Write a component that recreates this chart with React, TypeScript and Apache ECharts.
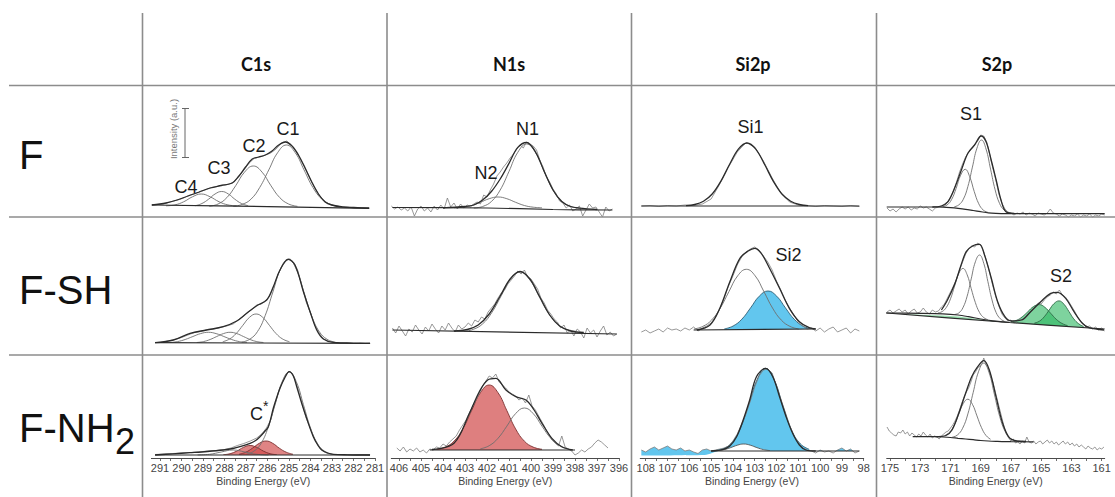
import React, { useEffect, useRef } from "react";
import * as echarts from "echarts";

type Pts = [number, number][];

const COLUMN_TITLES = ["C1s", "N1s", "Si2p", "S2p"];
const ROW_TITLES = ["F", "F-SH", "F-NH"];
const X_NAME = "Binding Energy (eV)";

const C1S_LABELS = [281, 282, 283, 284, 285, 286, 287, 288, 289, 290, 291];
const C1S_TICKS = [281, 281.5, 282, 282.5, 283, 283.5, 284, 284.5, 285, 285.5, 286, 286.5, 287, 287.5, 288, 288.5, 289, 289.5, 290, 290.5, 291];
const N1S_LABELS = [396, 397, 398, 399, 400, 401, 402, 403, 404, 405, 406];
const N1S_TICKS = [396, 396.5, 397, 397.5, 398, 398.5, 399, 399.5, 400, 400.5, 401, 401.5, 402, 402.5, 403, 403.5, 404, 404.5, 405, 405.5, 406];
const SI2P_LABELS = [98, 99, 100, 101, 102, 103, 104, 105, 106, 107, 108];
const SI2P_TICKS = [98, 98.5, 99, 99.5, 100, 100.5, 101, 101.5, 102, 102.5, 103, 103.5, 104, 104.5, 105, 105.5, 106, 106.5, 107, 107.5, 108];
const S2P_LABELS = [161, 163, 165, 167, 169, 171, 173, 175];
const S2P_TICKS = [161, 162, 163, 164, 165, 166, 167, 168, 169, 170, 171, 172, 173, 174, 175];

// ---------- Row F ----------
const C1S_F_BASE: Pts = [[291.38, 7], [286, 5.4], [281.27, 3.7]];
const C1S_F_C1: Pts = [[287.59, 5.7], [287.18, 7.6], [286.77, 12.8], [286.36, 24.6], [285.94, 42.1], [285.53, 59.3], [285.12, 67], [284.71, 59.3], [284.3, 42.1], [283.89, 24.6], [283.47, 12.8], [283.06, 7.6], [282.65, 5.5]];
const C1S_F_C2: Pts = [[288.71, 5.7], [288.3, 8], [287.89, 14.4], [287.48, 26.3], [287.07, 39.8], [286.66, 46], [286.25, 39.8], [285.84, 26.3], [285.43, 14.4], [285.02, 8], [284.61, 5.7]];
const C1S_F_C3: Pts = [[289.36, 6.3], [289.05, 8.5], [288.74, 12.8], [288.44, 18], [288.13, 20.5], [287.82, 18], [287.52, 12.8], [287.21, 8.5], [286.9, 6.3]];
const C1S_F_C4: Pts = [[290.72, 6.2], [290.31, 7.1], [289.9, 10.2], [289.49, 15.2], [289.08, 18], [288.67, 15.2], [288.25, 10.2], [287.84, 7.1], [287.43, 6.2]];
const C1S_F_ENV: Pts = [[291.38, 7], [290.72, 9], [290.21, 12], [289.7, 16], [289.18, 20], [288.67, 24], [288.15, 26.5], [287.64, 29], [287.33, 36], [287.02, 45], [286.71, 53], [286.41, 55], [286.1, 57], [285.79, 61], [285.48, 67], [285.17, 70], [284.86, 66], [284.56, 57], [284.25, 44], [283.94, 30], [283.63, 18], [283.32, 10], [283.01, 7], [282.5, 5], [281.99, 4.5], [281.47, 4], [281.27, 4]];
const C1S_F_RAW: Pts = [[291.38, 7], [291.1, 7.5], [290.85, 8], [290.6, 9.5], [290.35, 11], [290.1, 12.5], [289.85, 14.5], [289.6, 17], [289.35, 18.5], [289.1, 20.5], [288.85, 22.5], [288.6, 24.5], [288.35, 25.5], [288.1, 27], [287.85, 27.5], [287.6, 29.5], [287.35, 35], [287.1, 42], [286.85, 49], [286.6, 54], [286.35, 55], [286.1, 57], [285.85, 59], [285.6, 63], [285.35, 69], [285.1, 71], [284.85, 66], [284.6, 58], [284.35, 48], [284.1, 37], [283.85, 26], [283.6, 17], [283.35, 11], [283.1, 7.5], [282.85, 6], [282.6, 5], [282.35, 5], [282.1, 4.5], [281.85, 4], [281.6, 4.5], [281.3, 3.5]];

const N1S_F_BASE: Pts = [[406.3, 4.5], [402, 4], [399, 2.5], [396.3, 2]];
const N1S_F_N1: Pts = [[402.6, 3.9], [402.2, 5.5], [401.8, 10.5], [401.4, 22], [401.0, 40.6], [400.6, 59.7], [400.2, 68], [399.8, 59.7], [399.4, 40.6], [399.0, 22], [398.6, 10.5], [398.2, 5.5], [397.8, 3.9]];
const N1S_F_N2: Pts = [[403.5, 4.2], [403.1, 4.8], [402.7, 6.5], [402.3, 9.7], [401.9, 13.3], [401.5, 15], [401.1, 13.3], [400.7, 9.7], [400.3, 6.5], [399.9, 4.8], [399.5, 4.2]];
const N1S_F_ENV: Pts = [[404.0, 4.2], [403.0, 5.5], [402.6, 7], [402.2, 12], [401.8, 20.5], [401.4, 33], [401.0, 48.6], [400.6, 64.6], [400.2, 69.5], [399.8, 60.2], [399.4, 40.6], [399.0, 22], [398.6, 10.5], [398.2, 5.5], [397.8, 3.9], [397.0, 2.5]];
const N1S_F_RAW: Pts = [[406.35, 6], [406.2, 3], [406.05, 5], [405.9, 2], [405.75, 4], [405.6, 1], [405.45, 5], [405.3, -4], [405.15, 3], [405.0, 6], [404.85, 1], [404.7, 4], [404.55, 0], [404.4, 6], [404.25, 2], [404.1, 7], [403.95, 3], [403.8, 14], [403.65, 5], [403.5, 9], [403.35, 3], [403.2, 8], [403.05, 4], [402.9, 7], [402.75, 5], [402.6, 8], [402.45, 10], [402.3, 8], [402.15, 17], [402.0, 15], [401.85, 22], [401.7, 28], [401.55, 36], [401.4, 40], [401.25, 45], [401.1, 49], [400.95, 54], [400.8, 58], [400.65, 63], [400.5, 67], [400.35, 64], [400.2, 70], [400.05, 68], [399.9, 66], [399.75, 62], [399.6, 52], [399.45, 45], [399.3, 35], [399.15, 30], [399.0, 23], [398.85, 18], [398.7, 11], [398.55, 9], [398.4, 4], [398.25, 7], [398.1, 1], [397.95, 3], [397.8, 6], [397.65, -4], [397.5, 2], [397.35, 8], [397.2, 4], [397.05, 5], [396.9, 0], [396.75, -5], [396.6, 5], [396.45, 1], [396.3, 3]];

const SI2P_F_BASE: Pts = [[108.2, 6], [98.2, 6]];
const SI2P_F_ENV: Pts = [[106.15, 6.4], [105.75, 7.5], [105.35, 10.8], [104.95, 18], [104.55, 30.9], [104.15, 47.7], [103.75, 62.8], [103.35, 69], [102.95, 62.8], [102.55, 47.7], [102.15, 30.9], [101.75, 18], [101.35, 10.8], [100.95, 7.5], [100.55, 6.4]];
const SI2P_F_RAW: Pts = [[108.2, 6], [107.8, 6.5], [107.4, 5.5], [107, 6.5], [106.6, 6], [106.2, 7], [105.8, 6.5], [105.4, 8], [105.0, 13], [104.6, 28], [104.2, 45], [103.8, 60], [103.4, 69.5], [103.0, 65], [102.6, 51], [102.2, 34], [101.8, 19], [101.4, 10], [101.0, 7], [100.6, 6.5], [100.2, 5.5], [99.8, 6.5], [99.4, 6], [99.0, 5.5], [98.6, 6.5], [98.2, 5.5]];

const S2P_F_BASE: Pts = [[175.22, 5], [172, 5], [171.5, 4.8], [171, 4.3], [170.5, 3.6], [170, 2.7], [169.5, 1.5], [169, 0.3], [168.5, -0.8], [168, -1.3], [167.3, -1.6], [166, -1.7], [160.8, -1.7]];
const S2P_F_S1A: Pts = [[170.75, 5.2], [170.45, 7.1], [170.15, 12.8], [169.85, 25.5], [169.55, 44.9], [169.25, 63.9], [168.95, 72], [168.65, 63], [168.35, 42.9], [168.05, 22.3], [167.75, 8.4], [167.45, 1.8], [167.15, -0.7]];
const S2P_F_S1B: Pts = [[171.53, 5.4], [171.23, 7], [170.93, 12.4], [170.63, 23.5], [170.33, 36.8], [170.03, 42.7], [169.73, 35.3], [169.43, 20.5], [169.13, 8.2], [168.83, 1.9], [168.53, -0.3]];
const S2P_F_ENV: Pts = [[172.2, 5], [171.6, 6], [171.16, 10.3], [170.7, 25], [170.28, 42], [169.85, 58.7], [169.41, 67], [168.97, 76], [168.64, 70], [168.31, 52], [167.98, 32], [167.66, 12], [167.33, 0.3], [166.78, -1.3]];
const S2P_F_RAW: Pts = [[175.2, 4], [175.0, 1], [174.8, 3], [174.6, 0], [174.4, 3], [174.2, 5], [174.0, 3], [173.8, 5], [173.6, 2], [173.4, 4], [173.2, 3], [173.0, 6], [172.8, 4], [172.6, 5], [172.4, 3], [172.2, 1], [172.0, 4], [171.8, 5], [171.6, 6], [171.4, 8], [171.2, 10], [171.0, 15], [170.8, 21], [170.6, 30], [170.4, 40], [170.2, 48], [170.0, 55], [169.8, 60], [169.6, 63], [169.4, 67], [169.2, 71], [169.0, 77], [168.8, 76], [168.6, 70], [168.4, 57], [168.2, 44], [168.0, 32], [167.8, 18], [167.6, 9], [167.4, 3], [167.2, 0], [167.0, -1], [166.8, -3], [166.6, -1], [166.4, -2], [166.2, 0], [166.0, -3], [165.8, -1], [165.6, -2], [165.4, -4], [165.2, -1], [165.0, -2], [164.8, -3], [164.6, -1], [164.4, 3], [164.2, -1], [164.0, -2], [163.8, -4], [163.6, -2], [163.4, -3], [163.2, -5], [163.0, -3], [162.8, -4], [162.6, -2], [162.4, -5], [162.2, -3], [162.0, -4], [161.8, -2], [161.6, -5], [161.4, -3], [161.2, -4], [161.0, -2], [160.8, -3]];

// ---------- Row F-SH ----------
const C1S_SH_BASE: Pts = [[291.23, 7.3], [281.23, 6.7]];
const C1S_SH_C1: Pts = [[287.19, 7.9], [286.83, 10.7], [286.47, 18.3], [286.11, 34.3], [285.75, 58], [285.39, 81.1], [285.03, 91], [284.67, 81.1], [284.31, 58], [283.95, 34.3], [283.59, 18.3], [283.23, 10.7], [282.87, 7.9]];
const C1S_SH_C2: Pts = [[288.08, 8.3], [287.77, 10.9], [287.46, 16.4], [287.15, 24.6], [286.84, 32.6], [286.53, 36], [286.22, 32.6], [285.91, 24.6], [285.6, 16.4], [285.29, 10.9], [284.98, 8.3]];
const C1S_SH_C3: Pts = [[289.29, 7.5], [288.98, 8.4], [288.67, 10.5], [288.36, 13.5], [288.05, 16.4], [287.74, 17.7], [287.43, 16.4], [287.12, 13.5], [286.81, 10.5], [286.5, 8.4], [286.19, 7.5]];
const C1S_SH_C4: Pts = [[290.55, 7.5], [290.19, 8.4], [289.83, 10.5], [289.47, 13.5], [289.11, 16.4], [288.75, 17.7], [288.39, 16.4], [288.03, 13.5], [287.67, 10.5], [287.31, 8.4], [286.95, 7.5]];
const C1S_SH_ENV: Pts = [[291.23, 7.3], [290.38, 10], [289.6, 16.7], [288.83, 20], [288.06, 23.3], [287.43, 29], [286.97, 36.7], [286.5, 44.3], [286.04, 50], [285.73, 63.3], [285.42, 80], [285.03, 90.7], [284.72, 85], [284.33, 58.3], [284.02, 38.3], [283.71, 20], [283.4, 11], [282.94, 7.7], [281.23, 6.7]];
const C1S_SH_RAW: Pts = [[291.23, 7.3], [290.9, 8], [290.6, 9], [290.3, 10.5], [290.0, 12.5], [289.7, 15], [289.4, 17.5], [289.1, 18.5], [288.8, 20.5], [288.5, 21], [288.2, 22.5], [287.9, 24], [287.6, 26], [287.3, 31], [287.0, 36], [286.7, 41], [286.5, 45], [286.3, 46], [286.1, 49], [285.9, 54], [285.7, 64], [285.5, 76], [285.3, 85], [285.1, 90], [284.95, 91], [284.8, 88], [284.6, 80], [284.4, 65], [284.2, 48], [284.0, 37], [283.8, 25], [283.6, 17], [283.4, 11], [283.2, 9], [282.9, 7.5], [282.6, 7], [282.3, 7.5], [282.0, 6.5], [281.7, 7], [281.45, 6.5], [281.23, 6.7]];

const N1S_SH_BASE: Pts = [[406.3, 20], [396.1, 16]];
const N1S_SH_N1: Pts = [[403.05, 18.7], [402.63, 20.6], [402.2, 26.1], [401.78, 37.5], [401.35, 54.4], [400.93, 70.9], [400.5, 78], [400.08, 70.9], [399.65, 54.4], [399.23, 37.5], [398.8, 26.1], [398.38, 20.6], [397.95, 18.7]];
const N1S_SH_ENV: Pts = [[403.5, 19], [402.9, 20.5], [402.4, 25], [401.9, 36], [401.4, 54], [400.95, 71], [400.5, 78.5], [400.05, 71], [399.6, 53], [399.15, 35], [398.7, 24], [398.2, 19], [397.6, 17.5]];
const N1S_SH_RAW: Pts = [[406.3, 22], [406.15, 17], [406.0, 24], [405.85, 19], [405.7, 14], [405.55, 21], [405.4, 18], [405.25, 25], [405.1, 20], [404.95, 16], [404.8, 23], [404.65, 19], [404.5, 26], [404.35, 21], [404.2, 17], [404.05, 24], [403.9, 20], [403.75, 27], [403.6, 22], [403.45, 18], [403.3, 25], [403.15, 21], [403.0, 23], [402.85, 27], [402.7, 24], [402.55, 30], [402.4, 28], [402.25, 33], [402.1, 31], [401.95, 38], [401.8, 42], [401.65, 46], [401.5, 52], [401.35, 57], [401.2, 60], [401.05, 66], [400.9, 70], [400.75, 74], [400.6, 79], [400.45, 76], [400.3, 80], [400.15, 73], [400.0, 71], [399.85, 66], [399.7, 61], [399.55, 52], [399.4, 47], [399.25, 40], [399.1, 36], [398.95, 31], [398.8, 28], [398.65, 22], [398.5, 25], [398.35, 17], [398.2, 20], [398.05, 14], [397.9, 21], [397.75, 18], [397.6, 12], [397.45, 22], [397.3, 17], [397.15, 20], [397.0, 13], [396.85, 19], [396.7, 24], [396.55, 15], [396.4, 18], [396.25, 14], [396.1, 16]];

const SI2P_SH_BASE: Pts = [[105.8, 20], [100.2, 21]];
const SI2P_SH_MASK: Pts = [[105.6, 20], [100.2, 21]];
const SI2P_SH_A: Pts = [[105.78, 21], [105.38, 23.6], [104.98, 29.9], [104.58, 41.9], [104.18, 58.5], [103.78, 74.2], [103.38, 80.7], [102.98, 74.2], [102.58, 58.5], [102.18, 41.9], [101.78, 29.9], [101.38, 23.6], [100.98, 21]];
const SI2P_SH_B: Pts = [[104.39, 21.1], [103.99, 24], [103.59, 30.8], [103.19, 42.1], [102.79, 53.8], [102.39, 59], [101.99, 53.8], [101.59, 42.1], [101.19, 30.8], [100.79, 24], [100.39, 21.1]];
const SI2P_SH_ENV: Pts = [[105.65, 20], [105.05, 25], [104.6, 41.7], [104.14, 68.3], [103.68, 91.7], [103.3, 99], [103.0, 101.7], [102.7, 96.7], [102.32, 81.7], [101.86, 61.7], [101.41, 41.7], [100.95, 28.3], [100.5, 22.3], [100.2, 21]];
const SI2P_SH_RAW: Pts = [[108.2, 18], [108.0, 20], [107.8, 17], [107.6, 19], [107.4, 21], [107.2, 18], [107.0, 22], [106.8, 20], [106.6, 21], [106.4, 19], [106.2, 22], [106.0, 20], [105.8, 23], [105.6, 19], [105.4, 22], [105.2, 24], [105.0, 27], [104.8, 33], [104.6, 41], [104.4, 52], [104.2, 64], [104.0, 74], [103.8, 85], [103.6, 93], [103.4, 98], [103.2, 101], [103.0, 103], [102.8, 100], [102.6, 94], [102.4, 88], [102.2, 80], [102.0, 69], [101.8, 60], [101.6, 50], [101.4, 42], [101.2, 35], [101.0, 28], [100.8, 24], [100.6, 21], [100.4, 22], [100.2, 19], [100.0, 22], [99.8, 18], [99.6, 21], [99.4, 23], [99.2, 18], [99.0, 20], [98.8, 22], [98.6, 17], [98.4, 21], [98.2, 19]];

const S2P_SH_UPPER: Pts = [[175.22, 37], [173, 36.7], [171.5, 36.2], [170.5, 35], [169.8, 33.3], [169, 31], [168.2, 29.2], [167.5, 28.1], [167.1, 27.5]];
const S2P_SH_SLIVER: Pts = [[174.6, 36.2], [173, 35.2], [171.5, 34.6], [170.5, 33.6], [169.8, 32.3], [169, 30.5], [168.2, 29], [167.5, 28.1], [167.1, 27.5]];
const S2P_SH_LOWER: Pts = [[175.6, 37.4], [175.22, 37], [167.1, 27.5], [160.8, 21]];
const S2P_SH_S1A: Pts = [[170.73, 35.5], [170.455, 37], [170.18, 42.2], [169.9, 53.8], [169.63, 71.1], [169.355, 88.2], [169.08, 95], [168.8, 86.7], [168.53, 68.6], [168.255, 50.1], [167.98, 37.4], [167.7, 31.2], [167.43, 28.7]];
const S2P_SH_S1B: Pts = [[171.83, 37.1], [171.555, 38.4], [171.28, 42.5], [171.0, 51.2], [170.73, 63.9], [170.455, 76.5], [170.18, 81.6], [169.9, 75.3], [169.63, 61.4], [169.355, 47.4], [169.08, 37.5], [168.8, 32.4], [168.53, 30.3]];
const S2P_SH_S2A: Pts = [[165.45, 26.9], [165.12, 28.8], [164.8, 33.2], [164.47, 40], [164.15, 46.4], [163.82, 49.1], [163.5, 45.8], [163.17, 38.6], [162.85, 31.2], [162.52, 26.2], [162.2, 23.5]];
const S2P_SH_S2B: Pts = [[167.0, 28.3], [166.63, 29.7], [166.26, 33.1], [165.88, 38.3], [165.51, 43.4], [165.13, 45.4], [164.76, 42.7], [164.38, 36.8], [164.01, 30.8], [163.63, 26.6], [163.26, 24.4]];
const S2P_SH_ENV: Pts = [[171.6, 40], [171.2, 50], [170.7, 66.7], [170.3, 85], [169.96, 98.3], [169.52, 104.3], [169.08, 105.7], [168.75, 95], [168.3, 71.7], [167.88, 48.3], [167.4, 33.3], [166.98, 29], [166.3, 30], [165.7, 38.3], [165.03, 48.3], [164.37, 56.7], [163.93, 57.7], [163.38, 51.7], [162.83, 38.3], [162.28, 26.7], [161.84, 22.3], [160.85, 20]];
const S2P_SH_RAW: Pts = [[175.2, 38], [175.0, 40], [174.8, 37], [174.6, 39], [174.4, 41], [174.2, 38], [174.0, 40], [173.8, 36], [173.6, 39], [173.4, 41], [173.2, 37], [173.0, 38], [172.8, 42], [172.6, 38], [172.4, 36], [172.2, 40], [172.0, 38], [171.8, 39], [171.6, 43], [171.4, 46], [171.2, 52], [171.0, 58], [170.8, 64], [170.6, 71], [170.4, 80], [170.2, 88], [170.0, 96], [169.8, 101], [169.6, 104], [169.4, 103], [169.2, 107], [169.0, 105], [168.8, 98], [168.6, 88], [168.4, 77], [168.2, 64], [168.0, 53], [167.8, 44], [167.6, 36], [167.4, 32], [167.2, 29], [167.0, 30], [166.8, 27], [166.6, 29], [166.4, 31], [166.2, 30], [166.0, 34], [165.8, 37], [165.6, 40], [165.4, 43], [165.2, 47], [165.0, 46], [164.8, 50], [164.6, 53], [164.4, 55], [164.2, 58], [164.0, 56], [163.8, 60], [163.6, 55], [163.4, 53], [163.2, 49], [163.0, 44], [162.8, 39], [162.6, 33], [162.4, 29], [162.2, 26], [162.0, 23], [161.8, 24], [161.6, 21], [161.4, 23], [161.2, 20], [161.0, 22], [160.8, 19]];

// ---------- Row F-NH2 ----------
const C1S_NH_BASE: Pts = [[291.23, 3], [281.23, 3]];
const C1S_NH_MAIN: Pts = [[286.97, 3.9], [286.64, 6.7], [286.31, 14.2], [285.98, 30], [285.65, 53.4], [285.32, 76.2], [284.99, 86], [284.66, 76.2], [284.33, 53.4], [284.0, 30], [283.67, 14.2], [283.34, 6.7], [283.01, 3.9]];
const C1S_NH_REDA: Pts = [[287.32, 3.8], [287.01, 5.8], [286.7, 9.8], [286.38, 14.7], [286.07, 17], [285.76, 14.7], [285.45, 9.8], [285.13, 5.8], [284.82, 3.8]];
const C1S_NH_REDB: Pts = [[288.05, 3.3], [287.74, 4.3], [287.43, 6.9], [287.12, 10.6], [286.81, 12.5], [286.5, 10.6], [286.19, 6.9], [285.88, 4.3], [285.57, 3.3]];
const C1S_NH_GRAY: Pts = [[289.25, 3.1], [288.7, 3.7], [288.15, 6], [287.6, 8], [287.05, 6], [286.5, 3.7], [285.95, 3.1]];
const C1S_NH_ENV: Pts = [[291.23, 3], [290.4, 4.2], [289.6, 5.3], [288.8, 6.5], [288.06, 8], [287.6, 9.5], [287.28, 11.3], [286.81, 14.7], [286.55, 17.5], [286.35, 21.3], [286.15, 26], [285.96, 31.3], [285.73, 49.7], [285.58, 60], [285.42, 69.7], [285.2, 80], [284.99, 86.3], [284.8, 82], [284.64, 71.3], [284.41, 54.7], [284.18, 39.7], [283.87, 21.3], [283.65, 12.5], [283.48, 8], [283.2, 5], [282.94, 3.7], [282.3, 3.2], [281.23, 3]];
const C1S_NH_RAW: Pts = [[291.23, 3.5], [290.8, 4], [290.4, 4.5], [290.0, 5], [289.6, 5.5], [289.2, 6], [288.8, 7], [288.4, 7.5], [288.0, 8.5], [287.7, 10], [287.4, 12.5], [287.1, 14.5], [286.8, 17], [286.5, 20], [286.25, 24.5], [286.05, 30], [285.85, 38], [285.7, 50], [285.55, 61], [285.4, 71], [285.2, 81], [285.0, 87], [284.8, 83], [284.6, 70], [284.4, 55], [284.2, 40], [284.0, 29], [283.8, 19], [283.6, 11], [283.4, 6.5], [283.2, 4.5], [282.9, 3.5], [282.5, 3.5], [282.0, 3], [281.6, 3.5], [281.23, 3]];

const N1S_NH_BASE: Pts = [[404.6, 8], [398.0, 8]];
const N1S_NH_RED: Pts = [[404.3, 8.7], [403.9, 10.9], [403.5, 16.8], [403.1, 29.1], [402.7, 47.5], [402.3, 65.3], [401.9, 73], [401.5, 65.3], [401.1, 47.5], [400.7, 29.1], [400.3, 16.8], [399.9, 10.9], [399.5, 8.7]];
const N1S_NH_GRAY: Pts = [[402.3, 9.2], [401.9, 12.3], [401.5, 19.7], [401.1, 31.8], [400.7, 44.4], [400.3, 50], [399.9, 44.4], [399.5, 31.8], [399.1, 19.7], [398.7, 12.3], [398.3, 9.2]];
const N1S_NH_ENV: Pts = [[404.5, 8.5], [403.5, 14.7], [402.8, 44.7], [402.35, 66.3], [401.97, 78], [401.6, 79.7], [401.14, 68], [400.69, 61.3], [400.23, 58], [399.86, 48], [399.5, 34.7], [399.05, 19.7], [398.6, 11.3], [398.1, 8]];
const N1S_NH_RAW: Pts = [[406.1, 10], [405.95, 7], [405.8, 11], [405.65, 6], [405.5, 9], [405.35, 7], [405.2, 10], [405.05, 6], [404.9, 8], [404.75, 5], [404.6, 9], [404.45, 8], [404.3, 11], [404.15, 10], [404.0, 14], [403.85, 12], [403.7, 16], [403.55, 19], [403.4, 22], [403.25, 28], [403.1, 33], [402.95, 38], [402.8, 45], [402.65, 52], [402.5, 58], [402.35, 65], [402.2, 72], [402.05, 77], [401.9, 82], [401.75, 80], [401.6, 84], [401.45, 76], [401.3, 73], [401.15, 70], [401.0, 66], [400.85, 64], [400.7, 62], [400.55, 58], [400.4, 60], [400.25, 55], [400.1, 63], [399.95, 52], [399.8, 48], [399.65, 42], [399.5, 36], [399.35, 30], [399.2, 24], [399.05, 18], [398.9, 15], [398.75, 12], [398.6, 22], [398.45, 11], [398.3, 9], [398.15, 7], [398.0, 3], [397.85, 5], [397.7, 8], [397.55, 6], [397.4, 9], [397.25, 11], [397.1, 15], [396.95, 18], [396.8, 16], [396.65, 13], [396.5, 10]];

const SI2P_NH_BASE: Pts = [[105.0, 7], [98.2, 7]];
const SI2P_NH_MASK: Pts = [[108.4, 2.5], [105.3, 3], [104.6, 7], [98.0, 7]];
const SI2P_NH_MAIN: Pts = [[104.5, 8.7], [104.1, 14], [103.7, 27.6], [103.3, 51.6], [102.9, 77.9], [102.5, 89.7], [102.1, 77.9], [101.7, 51.6], [101.3, 27.6], [100.9, 14], [100.5, 8.7]];
const SI2P_NH_SMALL: Pts = [[104.7, 7.4], [104.4, 8.4], [104.1, 10.4], [103.8, 12.8], [103.5, 14], [103.2, 12.8], [102.9, 10.4], [102.6, 8.4], [102.3, 7.4]];
const SI2P_NH_ENV: Pts = [[105.0, 7], [104.44, 8.7], [104.14, 12], [103.83, 21.3], [103.53, 38], [103.23, 58], [102.92, 81.3], [102.5, 89.7], [102.17, 81.3], [101.86, 61.3], [101.56, 41.3], [101.26, 24.7], [100.95, 13], [100.65, 8], [100.2, 7]];
const SI2P_NH_RAW: Pts = [[108.2, 8], [108.0, 6], [107.8, 9], [107.6, 11], [107.4, 8], [107.2, 10], [107.0, 12], [106.8, 9], [106.6, 8], [106.4, 10], [106.2, 7], [106.0, 8], [105.8, 6], [105.6, 4.5], [105.4, 8], [105.2, 9], [105.0, 7], [104.8, 8], [104.6, 9], [104.4, 10], [104.2, 12], [104.0, 17], [103.8, 24], [103.6, 34], [103.4, 44], [103.2, 57], [103.0, 71], [102.8, 82], [102.6, 88], [102.4, 89], [102.2, 85], [102.0, 72], [101.8, 59], [101.6, 46], [101.4, 33], [101.2, 22], [101.0, 15], [100.8, 10], [100.6, 8], [100.4, 7], [100.2, 5], [100.0, 8], [99.8, 6], [99.6, 7], [99.4, 5], [99.2, 8], [99.0, 10], [98.8, 7], [98.6, 9], [98.4, 5], [98.2, 7]];

const S2P_NH_BASE: Pts = [[173.5, 21.4], [172, 21.3], [171.5, 21], [171, 20.5], [170.5, 19.7], [170, 19], [169.5, 18.3], [169, 17.5], [168.5, 17], [168, 16.7], [167, 16.3], [165.5, 16.2]];
const S2P_NH_MAIN: Pts = [[170.9, 20.7], [170.55, 22.9], [170.2, 29.7], [169.85, 44.1], [169.5, 65.5], [169.15, 86.2], [168.8, 94.9], [168.45, 85.4], [168.1, 63.9], [167.75, 41.8], [167.4, 26.9], [167.05, 19.7], [166.7, 17.2]];
const S2P_NH_LEFT: Pts = [[171.35, 22.8], [171.05, 25.9], [170.75, 33], [170.45, 44], [170.15, 54.6], [169.85, 58.8], [169.55, 53.7], [169.25, 42.1], [168.95, 30.4], [168.65, 22.5], [168.35, 18.7]];
const S2P_NH_ENV: Pts = [[172, 21.3], [171.3, 22.5], [170.9, 28], [170.45, 44.7], [170.0, 64.7], [169.6, 81.3], [169.2, 91.3], [168.8, 97.3], [168.43, 88], [167.99, 61.3], [167.55, 34.7], [167.11, 20.3], [166.6, 17], [166, 16.5]];
const S2P_NH_RAW: Pts = [[175.2, 31], [175.05, 27], [174.9, 25], [174.75, 23], [174.6, 22], [174.45, 26], [174.3, 25], [174.15, 28], [174.0, 24], [173.85, 26], [173.7, 22], [173.55, 25], [173.4, 23], [173.25, 21], [173.1, 24], [172.95, 22], [172.8, 26], [172.65, 23], [172.5, 21], [172.35, 24], [172.2, 20], [172.05, 22], [171.9, 21], [171.75, 19], [171.6, 22], [171.45, 24], [171.3, 26], [171.15, 27], [171.0, 30], [170.85, 33], [170.7, 37], [170.55, 42], [170.4, 48], [170.25, 55], [170.1, 61], [169.95, 66], [169.8, 70], [169.65, 76], [169.5, 83], [169.35, 86], [169.2, 90], [169.05, 92], [168.9, 95], [168.8, 100], [168.65, 93], [168.5, 90], [168.35, 83], [168.2, 76], [168.05, 67], [167.9, 58], [167.75, 49], [167.6, 40], [167.45, 31], [167.3, 24], [167.15, 20], [167.0, 17], [166.85, 19], [166.7, 15], [166.55, 16], [166.4, 14], [166.25, 17], [166.1, 15], [165.95, 21], [165.8, 16], [165.65, 15], [165.5, 17], [165.35, 14], [165.2, 16], [165.05, 17], [164.9, 14], [164.75, 16], [164.6, 18], [164.45, 15], [164.3, 17], [164.15, 14], [164.0, 16], [163.85, 13], [163.7, 15], [163.55, 17], [163.4, 14], [163.25, 16], [163.1, 13], [162.95, 15], [162.8, 12], [162.65, 14], [162.5, 11], [162.35, 13], [162.2, 11], [162.05, 9], [161.9, 12], [161.75, 10], [161.6, 9], [161.45, 11], [161.3, 8], [161.15, 10], [161.0, 9], [160.85, 11]];

// ---------- layout / style ----------
const COLS = [
  { left: 151.4, width: 223.6, min: 281, max: 291.4, labels: C1S_LABELS, ticks: C1S_TICKS },
  { left: 391.3, width: 227.7, min: 396, max: 406.35, labels: N1S_LABELS, ticks: N1S_TICKS },
  { left: 640.25, width: 223.45, min: 98, max: 108.25, labels: SI2P_LABELS, ticks: SI2P_TICKS },
  { left: 886.7, width: 218, min: 160.8, max: 175.22, labels: S2P_LABELS, ticks: S2P_TICKS },
];
const ROWS = [
  { top: 92, height: 126, min: -6, max: 120 },
  { top: 230, height: 125, min: -5, max: 120 },
  { top: 348, height: 110, min: 0, max: 110 },
];

const RED = "rgba(208, 74, 74, 0.68)";
const RED_EDGE = "#7a2f2f";
const BLUE = "#62c6ee";
const BLUE_EDGE = "#2f5d74";
const GREEN = "rgba(46, 184, 98, 0.62)";
const GREEN_LIGHT = "rgba(110, 210, 140, 0.7)";
const GREEN_EDGE = "#2d6a45";

type Kind = "raw" | "env" | "comp" | "base" | "fill" | "mask" | "rawfill";
type Layer = { d: Pts; k: Kind; c?: string; o?: string };

const PANELS: Layer[][] = [
  // row F
  [
    { d: C1S_F_BASE, k: "base" }, { d: C1S_F_C1, k: "comp" }, { d: C1S_F_C2, k: "comp" }, { d: C1S_F_C3, k: "comp" }, { d: C1S_F_C4, k: "comp" }, { d: C1S_F_RAW, k: "raw" }, { d: C1S_F_ENV, k: "env" },
  ],
  [
    { d: N1S_F_BASE, k: "base" }, { d: N1S_F_N1, k: "comp" }, { d: N1S_F_N2, k: "comp" }, { d: N1S_F_RAW, k: "raw" }, { d: N1S_F_ENV, k: "env" },
  ],
  [
    { d: SI2P_F_BASE, k: "base" }, { d: SI2P_F_RAW, k: "raw" }, { d: SI2P_F_ENV, k: "env" },
  ],
  [
    { d: S2P_F_BASE, k: "base" }, { d: S2P_F_S1A, k: "comp" }, { d: S2P_F_S1B, k: "comp" }, { d: S2P_F_RAW, k: "raw" }, { d: S2P_F_ENV, k: "env" },
  ],
  // row F-SH
  [
    { d: C1S_SH_BASE, k: "base" }, { d: C1S_SH_C1, k: "comp" }, { d: C1S_SH_C2, k: "comp" }, { d: C1S_SH_C3, k: "comp" }, { d: C1S_SH_C4, k: "comp" }, { d: C1S_SH_RAW, k: "raw" }, { d: C1S_SH_ENV, k: "env" },
  ],
  [
    { d: N1S_SH_BASE, k: "base" }, { d: N1S_SH_N1, k: "comp" }, { d: N1S_SH_RAW, k: "raw" }, { d: N1S_SH_ENV, k: "env" },
  ],
  [
    { d: SI2P_SH_B, k: "fill", c: BLUE, o: BLUE_EDGE }, { d: SI2P_SH_MASK, k: "mask" }, { d: SI2P_SH_BASE, k: "base" }, { d: SI2P_SH_A, k: "comp" }, { d: SI2P_SH_RAW, k: "raw" }, { d: SI2P_SH_ENV, k: "env" },
  ],
  [
    { d: S2P_SH_SLIVER, k: "rawfill", c: GREEN_LIGHT }, { d: S2P_SH_S2B, k: "fill", c: GREEN, o: GREEN_EDGE }, { d: S2P_SH_S2A, k: "fill", c: GREEN, o: GREEN_EDGE }, { d: S2P_SH_LOWER, k: "mask" }, { d: S2P_SH_LOWER, k: "base" }, { d: S2P_SH_UPPER, k: "base" }, { d: S2P_SH_S1A, k: "comp" }, { d: S2P_SH_S1B, k: "comp" }, { d: S2P_SH_RAW, k: "raw" }, { d: S2P_SH_ENV, k: "env" },
  ],
  // row F-NH2
  [
    { d: C1S_NH_REDB, k: "fill", c: RED, o: RED_EDGE }, { d: C1S_NH_REDA, k: "fill", c: RED, o: RED_EDGE }, { d: C1S_NH_BASE, k: "mask" }, { d: C1S_NH_BASE, k: "base" }, { d: C1S_NH_GRAY, k: "comp" }, { d: C1S_NH_MAIN, k: "comp" }, { d: C1S_NH_RAW, k: "raw" }, { d: C1S_NH_ENV, k: "env" },
  ],
  [
    { d: N1S_NH_RED, k: "fill", c: "#de7f7f", o: RED_EDGE }, { d: N1S_NH_BASE, k: "mask" }, { d: N1S_NH_BASE, k: "base" }, { d: N1S_NH_GRAY, k: "comp" }, { d: N1S_NH_RAW, k: "raw" }, { d: N1S_NH_ENV, k: "env" },
  ],
  [
    { d: SI2P_NH_RAW, k: "rawfill", c: BLUE }, { d: SI2P_NH_MAIN, k: "fill", c: BLUE, o: BLUE_EDGE }, { d: SI2P_NH_SMALL, k: "fill", c: "#ffffff", o: "#555" }, { d: SI2P_NH_MASK, k: "mask" }, { d: SI2P_NH_BASE, k: "base" }, { d: SI2P_NH_RAW, k: "raw" }, { d: SI2P_NH_ENV, k: "env" },
  ],
  [
    { d: S2P_NH_BASE, k: "base" }, { d: S2P_NH_MAIN, k: "comp" }, { d: S2P_NH_LEFT, k: "comp" }, { d: S2P_NH_RAW, k: "raw" }, { d: S2P_NH_ENV, k: "env" },
  ],
];

function layerSeries(idx: number, L: Layer): any {
  const s: any = {
    type: "line", xAxisIndex: idx, yAxisIndex: idx, data: L.d,
    symbol: "none", showSymbol: false, silent: true, animation: false, clip: true,
  };
  switch (L.k) {
    case "raw":
      s.lineStyle = { color: "#7d7d7d", width: 0.8 }; s.z = 5; break;
    case "env":
      s.lineStyle = { color: "#2b2b2b", width: 1.3 }; s.smooth = 0.35; s.z = 6; break;
    case "comp":
      s.lineStyle = { color: "#6e6e6e", width: 0.9 }; s.smooth = 0.45; s.z = 4; break;
    case "base":
      s.lineStyle = { color: "#2b2b2b", width: 1.2 }; s.smooth = 0.3; s.z = 6; break;
    case "fill":
      s.lineStyle = { color: L.o || "#555", width: 0.9 }; s.smooth = 0.45;
      s.areaStyle = { color: L.c, opacity: 1, origin: "start" }; s.z = 1; break;
    case "rawfill":
      s.lineStyle = { width: 0, opacity: 0 };
      s.areaStyle = { color: L.c, opacity: 1, origin: "start" }; s.z = 1; break;
    case "mask":
      s.lineStyle = { width: 0, opacity: 0 }; s.smooth = 0.3;
      s.areaStyle = { color: "#ffffff", opacity: 1, origin: "start" }; s.z = 2; break;
  }
  return s;
}

function buildOption(): any {
  const grid: any[] = [];
  const xAxis: any[] = [];
  const yAxis: any[] = [];
  const series: any[] = [];
  ROWS.forEach((r, ri) => {
    COLS.forEach((c, ci) => {
      const idx = ri * 4 + ci;
      grid.push({ left: c.left, width: c.width, top: r.top, height: r.height, containLabel: false });
      const bottom = ri === 2;
      xAxis.push({
        type: "value", gridIndex: idx, min: c.min, max: c.max, inverse: true, show: bottom, z: 10,
        splitLine: { show: false },
        axisLine: { show: true, onZero: false, lineStyle: { color: "#4a4a4a", width: 1 } },
        axisTick: { show: true, customValues: c.ticks, length: 3, inside: false, lineStyle: { color: "#4a4a4a", width: 0.8 } },
        axisLabel: { customValues: c.labels, fontSize: 11, color: "#444", margin: 4, fontFamily: "Liberation Sans" },
        name: bottom ? X_NAME : "", nameLocation: "middle", nameGap: 17,
        nameTextStyle: { fontSize: 10.5, color: "#444", fontFamily: "Liberation Sans" },
      });
      yAxis.push({ type: "value", gridIndex: idx, min: r.min, max: r.max, show: false, splitLine: { show: false } });
      PANELS[idx].forEach((L) => series.push(layerSeries(idx, L)));
    });
  });

  const LINE = "#8c8c8c";
  const g: any[] = [];
  [142.5, 387, 631.5, 876.5].forEach((x) =>
    g.push({ type: "line", shape: { x1: x, y1: 13, x2: x, y2: 497 }, style: { stroke: LINE, lineWidth: 1.6 }, z: 20 })
  );
  [85.5, 217, 355].forEach((y) =>
    g.push({ type: "line", shape: { x1: 9, y1: y, x2: 1115, y2: y }, style: { stroke: LINE, lineWidth: 1.6 }, z: 20 })
  );
  const headerX = [256, 509, 753, 997];
  COLUMN_TITLES.forEach((t, i) =>
    g.push({ type: "text", x: headerX[i], y: 64, z: 20, style: { text: t, fill: "#111", font: "bold 18px Lato", textAlign: "center", textVerticalAlign: "middle" } })
  );
  const rowY = [155, 290, 428];
  ROW_TITLES.forEach((t, i) =>
    g.push({ type: "text", x: 19, y: rowY[i], z: 20, style: { text: t, fill: "#111", font: "40px 'Liberation Sans'", textAlign: "left", textVerticalAlign: "middle" } })
  );
  g.push({ type: "text", x: 115, y: 441, z: 20, style: { text: "2", fill: "#111", font: "36px 'Liberation Sans'", textAlign: "left", textVerticalAlign: "middle" } });

  const ann: [string, number, number][] = [
    ["C1", 288, 128.5], ["C2", 254, 146], ["C3", 219, 168], ["C4", 186, 187],
    ["N1", 527.5, 129], ["N2", 486, 173], ["Si1", 750.5, 127], ["S1", 971, 113.5],
    ["Si2", 788.5, 255], ["S2", 1061, 276],
  ];
  ann.forEach(([t, x, y]) =>
    g.push({ type: "text", x, y, z: 20, style: { text: t, fill: "#1a1a1a", font: "18px 'Liberation Sans'", textAlign: "center", textVerticalAlign: "middle" } })
  );
  g.push({ type: "text", x: 250, y: 414, z: 20, style: { text: "C", fill: "#1a1a1a", font: "18px 'Liberation Sans'", textAlign: "left", textVerticalAlign: "middle" } });
  g.push({ type: "text", x: 263, y: 406, z: 20, style: { text: "*", fill: "#1a1a1a", font: "14px 'Liberation Sans'", textAlign: "left", textVerticalAlign: "middle" } });

  // intensity scale bar
  g.push({ type: "line", shape: { x1: 185, y1: 108.5, x2: 185, y2: 157.5 }, style: { stroke: "#666", lineWidth: 1 }, z: 20 });
  g.push({ type: "line", shape: { x1: 182, y1: 108.5, x2: 189, y2: 108.5 }, style: { stroke: "#666", lineWidth: 1 }, z: 20 });
  g.push({ type: "line", shape: { x1: 182, y1: 157.5, x2: 189, y2: 157.5 }, style: { stroke: "#666", lineWidth: 1 }, z: 20 });
  g.push({ type: "text", x: 173.5, y: 129, rotation: Math.PI / 2, z: 20, style: { text: "Intensity (a.u.)", fill: "#777", font: "9.5px 'Liberation Sans'", textAlign: "center", textVerticalAlign: "middle" } });

  return { animation: false, backgroundColor: "#ffffff", grid, xAxis, yAxis, series, graphic: g };
}

export default function App() {
  const ref = useRef<HTMLDivElement>(null);
  useEffect(() => {
    if (!ref.current) return;
    const chart = echarts.init(ref.current, undefined, { renderer: "svg" });
    chart.setOption(buildOption());
    return () => chart.dispose();
  }, []);
  return <div ref={ref} style={{ position: "absolute", left: 0, top: 0, width: 1115, height: 497 }} />;
}
